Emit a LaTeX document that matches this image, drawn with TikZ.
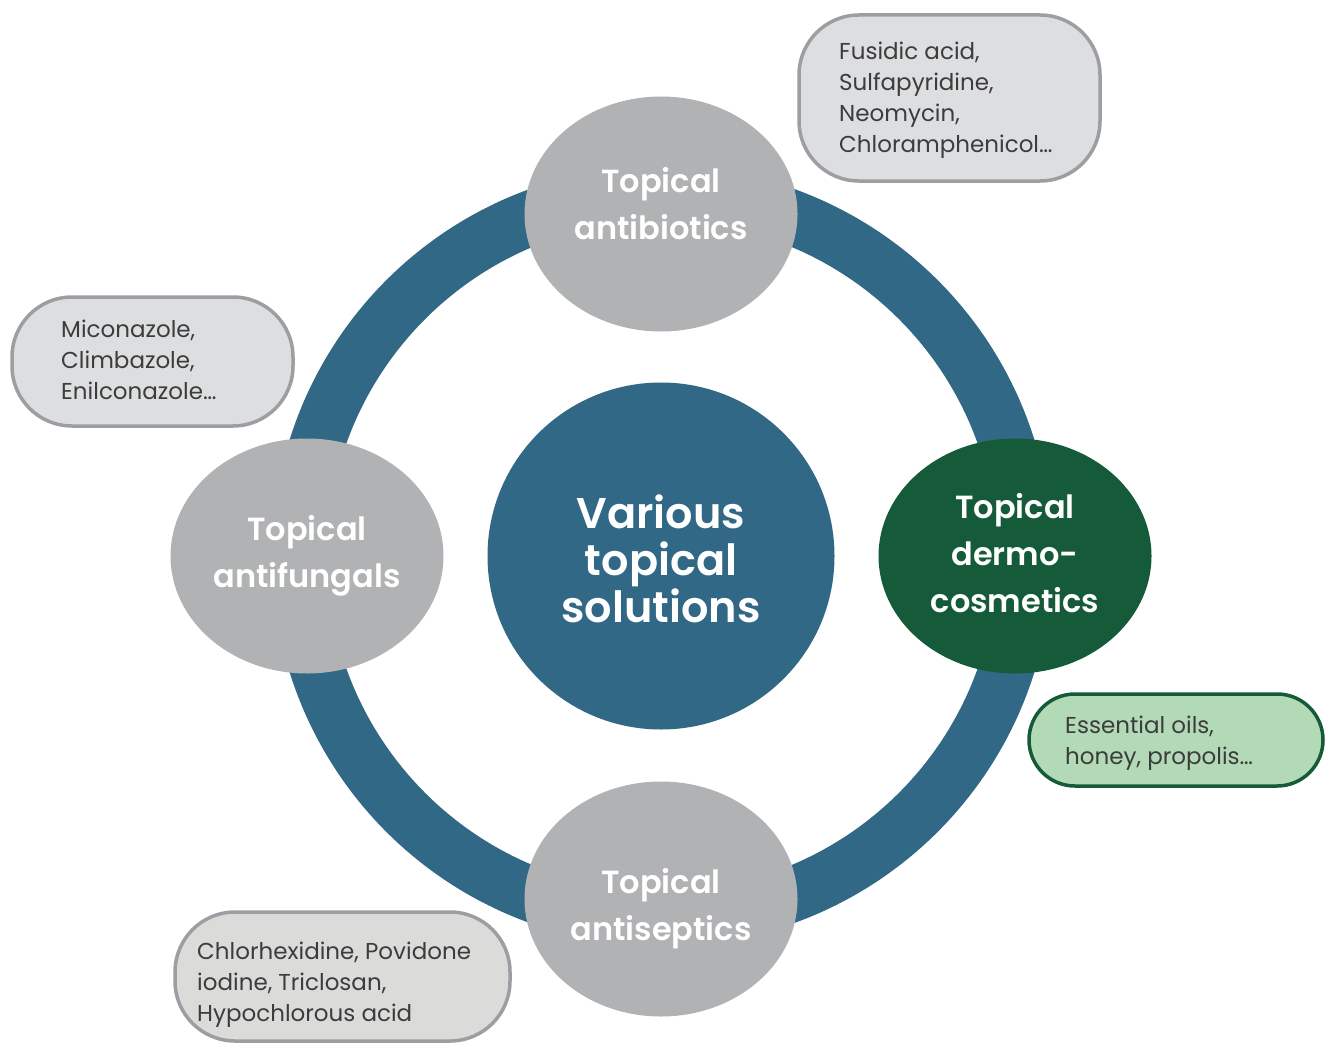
\documentclass[tikz,border=0pt]{standalone}
\usepackage{fontspec}
\setmainfont{Poppins}[BoldFont={Poppins SemiBold}]
\usetikzlibrary{shapes.geometric}
\definecolor{ringblue}{HTML}{316885}
\definecolor{ellgray}{HTML}{B1B2B4}
\definecolor{darkgreen}{HTML}{155B3A}
\definecolor{boxgray}{HTML}{DDDEE0}
\definecolor{boxgrayb}{HTML}{DBDBDA}
\definecolor{boxborder}{HTML}{9D9EA1}
\definecolor{boxgreen}{HTML}{B3DAB7}
\definecolor{txtgray}{HTML}{3C3C3C}
\tikzset{
  catell/.style={ellipse, fill=ellgray, minimum width=273pt, minimum height=235pt, inner sep=0pt},
  catlabel/.style={text=white, align=center, inner sep=0pt, font=\bfseries\fontsize{32}{47}\selectfont},
  callbox/.style={rounded corners=60pt, line width=3.5pt, draw=boxborder, fill=boxgray, inner sep=0pt},
  calltext/.style={anchor=west, align=left, inner sep=0pt, text=txtgray, font=\fontsize{23}{31}\selectfont},
}
\begin{document}
\begin{tikzpicture}[x=1pt,y=-1pt]
\useasboundingbox (0,0) rectangle (1327,1046);
% ring
\node (ring) [circle, draw=ringblue, line width=55pt, minimum size=725pt, inner sep=0pt] at (662,556) {};
% center
\node (center) [circle, fill=ringblue, minimum size=347pt, inner sep=0pt] at (661,556) {};
\node (centertext) [text=white, align=center, inner sep=0pt, font=\bfseries\fontsize{43}{47}\selectfont] at (661,559) {Various\\topical\\solutions};
% category ellipses
\node (abx) [catell] at (661,214) {};
\node (abxt) [catlabel] at (661,204) {Topical\\antibiotics};
\node (afg) [catell] at (307,556) {};
\node (afgt) [catlabel] at (307,556) {Topical\\antifungals};
\node (asp) [catell] at (661,899) {};
\node (aspt) [catlabel] at (661,909) {Topical\\antiseptics};
\node (dmc) [catell, fill=darkgreen] at (1015,556) {};
\node (dmct) [catlabel] at (1015,553) {Topical\\dermo-\\cosmetics};
% callouts
\node (c1) [callbox, minimum width=301pt, minimum height=166pt] at (949.5,98) {};
\node (c1t) [calltext] at (839,100) {Fusidic acid,\\Sulfapyridine,\\Neomycin,\\Chloramphenicol…};
\node (c2) [callbox, minimum width=281pt, minimum height=129pt] at (152.5,361.5) {};
\node (c2t) [calltext] at (61,360) {Miconazole,\\Climbazole,\\Enilconazole…};
\node (c3) [callbox, rounded corners=46pt, draw=darkgreen, fill=boxgreen, minimum width=294pt, minimum height=92pt] at (1176,740) {};
\node (c3t) [calltext] at (1065,743) {Essential oils,\\honey, propolis…};
\node (c4) [callbox, fill=boxgrayb, minimum width=335pt, minimum height=129pt] at (342.5,976.5) {};
\node (c4t) [calltext] at (197,984.5) {Chlorhexidine, Povidone\\iodine, Triclosan,\\Hypochlorous acid};
\end{tikzpicture}
\end{document}
